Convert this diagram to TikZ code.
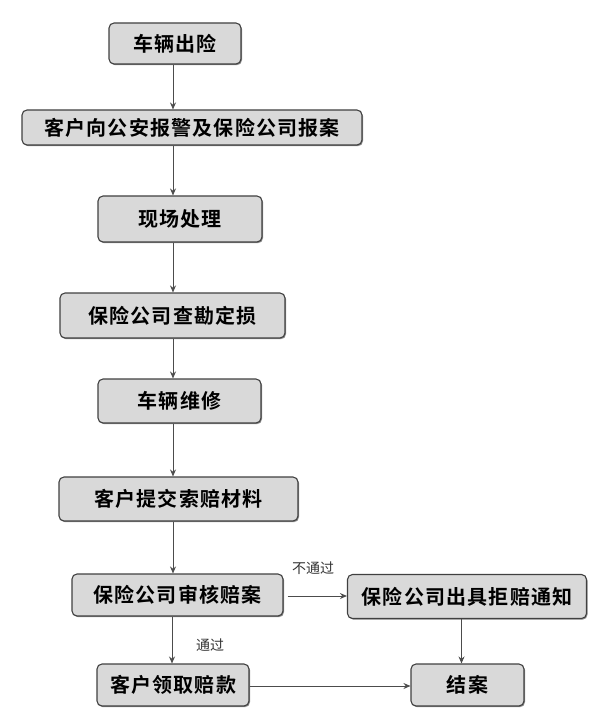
\documentclass[tikz,border=0pt]{standalone}
\usepackage{fontspec}
\newfontfamily\cjkb[LetterSpace=6]{Noto Sans CJK SC Bold}
\newfontfamily\cjk{Noto Sans CJK SC}
\usetikzlibrary{arrows.meta,shadows}
\begin{document}
\begin{tikzpicture}[x=1pt,y=-1pt,
  stepbox/.style={draw=black!75,line width=1.1pt,fill=black!15,rounded corners=5pt,
    inner sep=0pt,font=\cjkb\fontsize{20}{22}\selectfont,text=black,
    drop shadow={shadow xshift=1pt,shadow yshift=-1.2pt,fill=black!55,opacity=0.8}},
  conn/.style={draw=black!70,line width=0.9pt,-{Stealth[length=7pt,width=6pt]}},
  lbl/.style={font=\cjk\fontsize{14}{16}\selectfont,text=black!80}]
\useasboundingbox (0,0) rectangle (600,727);
\node[stepbox,minimum width=132pt,minimum height=41pt] (b1) at (175,43.5) {车辆出险};
\node[stepbox,minimum width=340pt,minimum height=35pt] (b2) at (192,127.5) {客户向公安报警及保险公司报案};
\node[stepbox,minimum width=164pt,minimum height=46pt] (b3) at (180,219) {现场处理};
\node[stepbox,minimum width=225pt,minimum height=45pt] (b4) at (172.5,315.5) {保险公司查勘定损};
\node[stepbox,minimum width=163pt,minimum height=44pt] (b5) at (179.5,401) {车辆维修};
\node[stepbox,minimum width=239pt,minimum height=44pt] (b6) at (178.5,499) {客户提交索赔材料};
\node[stepbox,minimum width=211pt,minimum height=42pt] (b7) at (177.5,595) {保险公司审核赔案};
\node[stepbox,minimum width=239pt,minimum height=44pt] (b8) at (467,596.5) {保险公司出具拒赔通知};
\node[stepbox,minimum width=152pt,minimum height=42pt] (b9) at (173,685) {客户领取赔款};
\node[stepbox,minimum width=113pt,minimum height=42pt] (b10) at (467.5,685) {结案};
\coordinate (spine) at (173,0);
\coordinate (left) at (172,0);
\coordinate (right) at (461.5,0);
\coordinate (row1) at (0,596);
\coordinate (row2) at (0,686);
\draw[conn] (b1.south -| spine) -- (b2.north -| spine);
\draw[conn] (b2.south -| spine) -- (b3.north -| spine);
\draw[conn] (b3.south -| spine) -- (b4.north -| spine);
\draw[conn] (b4.south -| spine) -- (b5.north -| spine);
\draw[conn] (b5.south -| spine) -- (b6.north -| spine);
\draw[conn] (b6.south -| spine) -- (b7.north -| spine);
\draw[conn] (b7.south -| left) -- (b9.north -| left);
\draw[conn] ([xshift=4pt]b7.east |- row1) -- (b8.west |- row1);
\draw[conn] (b8.south -| right) -- (b10.north -| right);
\draw[conn] (b9.east |- row2) -- (b10.west |- row2);
\node[lbl] (l1) at (313,568) {不通过};
\node[lbl] (l2) at (210,645) {通过};
\end{tikzpicture}
\end{document}
